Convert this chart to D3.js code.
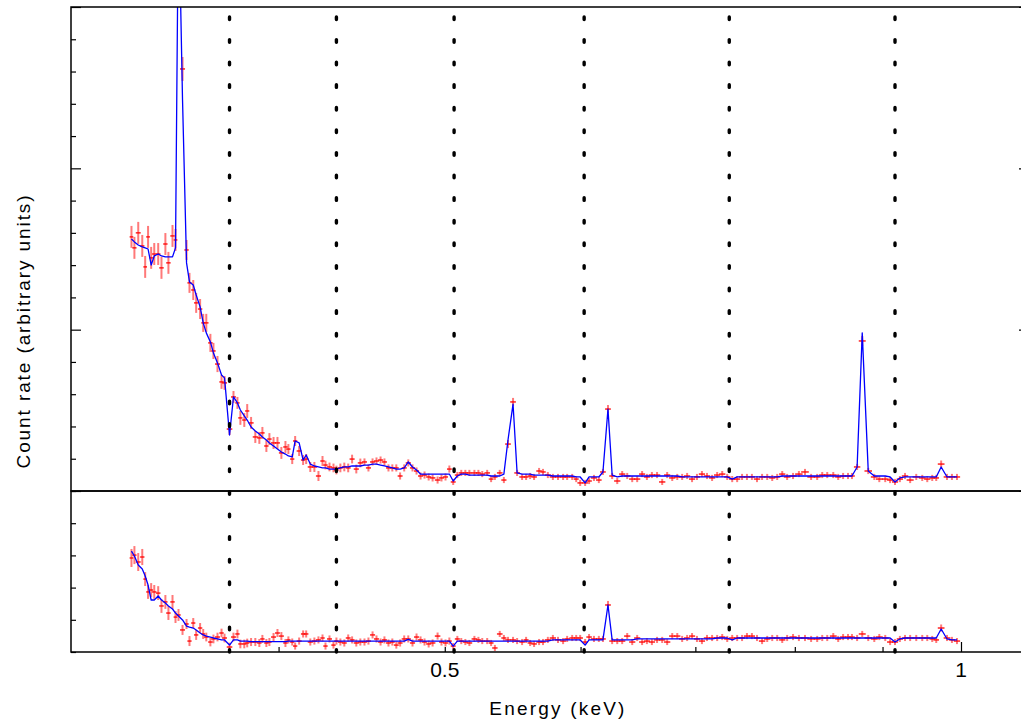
<!DOCTYPE html>
<html>
<head>
<meta charset="utf-8">
<script src="https://cdn.jsdelivr.net/npm/d3@7"></script>
<style>
  html, body { margin: 0; padding: 0; background: #fff; }
  svg { display: block; font-family: "Liberation Sans", Arial, sans-serif; }
</style>
</head>
<body>
<svg id="chart" width="1021" height="724"></svg>
<script>
// Channel energies (keV).
const energy = [
  0.3283, 0.3296, 0.3313, 0.3331, 0.3344, 0.3357, 0.3371, 0.3385, 0.3403, 0.3418,
  0.3436, 0.3450, 0.3469, 0.3483, 0.3497, 0.3516, 0.3535, 0.3549, 0.3567, 0.3581,
  0.3600, 0.3615, 0.3630, 0.3650, 0.3665, 0.3685, 0.3705, 0.3720, 0.3745, 0.3765,
  0.3785, 0.3800, 0.3820, 0.3835,
  0.3855, 0.3877, 0.3898, 0.3914, 0.3935, 0.3951, 0.3973, 0.3994, 0.4015, 0.4037,
  0.4053, 0.4074, 0.4090, 0.4112, 0.4134, 0.4151, 0.4174, 0.4197, 0.4220, 0.4243,
  0.4260, 0.4283, 0.4306, 0.4323, 0.4346, 0.4369, 0.4392, 0.4415, 0.4440, 0.4464,
  0.4489, 0.4513, 0.4538, 0.4562, 0.4587, 0.4611, 0.4636, 0.4660, 0.4685, 0.4709,
  0.4735, 0.4761, 0.4788, 0.4814, 0.4840, 0.4866, 0.4893, 0.4919, 0.4952, 0.4978,
  0.5005, 0.5031, 0.5057, 0.5085, 0.5112, 0.5140, 0.5168, 0.5203, 0.5231, 0.5258,
  0.5293, 0.5321, 0.5348, 0.5383, 0.5413, 0.5443, 0.5480,
  0.5510, 0.5547, 0.5577, 0.5607, 0.5637, 0.5675, 0.5705, 0.5742, 0.5781, 0.5821,
  0.5861, 0.5893, 0.5933, 0.5965, 0.5997, 0.6037, 0.6069, 0.6109, 0.6149, 0.6183,
  0.6225, 0.6260, 0.6303, 0.6345, 0.6388, 0.6431, 0.6474, 0.6517, 0.6559, 0.6603,
  0.6649, 0.6695, 0.6740, 0.6786, 0.6832, 0.6877, 0.6923, 0.6969, 0.7015, 0.7062,
  0.7110, 0.7159, 0.7208, 0.7257, 0.7306, 0.7355, 0.7404, 0.7453, 0.7502, 0.7552,
  0.7604, 0.7656, 0.7709, 0.7761, 0.7813, 0.7866, 0.7918, 0.7981, 0.8044, 0.8110,
  0.8177, 0.8244, 0.8300, 0.8356, 0.8424, 0.8480, 0.8536, 0.8592, 0.8638, 0.8698,
  0.8758, 0.8829, 0.8901, 0.8961, 0.9033, 0.9092, 0.9152, 0.9212, 0.9276, 0.9340,
  0.9417, 0.9493, 0.9557, 0.9621, 0.9673, 0.9737, 0.9814, 0.9879, 0.9946
];

// Upper panel: measured count rate, 1-sigma error and model.
const topData = [
  1.575, 1.507, 1.600, 1.519, 1.389, 1.575, 1.445, 1.469, 1.469, 1.383,
  1.531, 1.414, 1.581, 1.556, 3.800, 2.616, 1.494, 1.290, 1.246, 1.166,
  1.128, 1.042, 1.042, 0.918, 0.868, 0.787, 0.676, 0.670, 0.384, 0.583,
  0.546, 0.453, 0.440, 0.496,
  0.422, 0.335, 0.329, 0.360, 0.279, 0.322, 0.298, 0.298, 0.236, 0.273,
  0.260, 0.198, 0.310, 0.248, 0.192, 0.198, 0.149, 0.149, 0.093, 0.186,
  0.161, 0.149, 0.143, 0.130, 0.143, 0.149, 0.143, 0.198, 0.136, 0.174,
  0.180, 0.143, 0.180, 0.186, 0.192, 0.180, 0.143, 0.143, 0.143, 0.093,
  0.143, 0.174, 0.143, 0.124, 0.093, 0.099, 0.087, 0.081, 0.068, 0.081,
  0.087, 0.136, 0.056, 0.099, 0.112, 0.112, 0.112, 0.112, 0.112, 0.105,
  0.112, 0.074, 0.087, 0.112, 0.068, 0.291, 0.552,
  0.112, 0.087, 0.087, 0.093, 0.087, 0.124, 0.118, 0.099, 0.087, 0.087,
  0.087, 0.087, 0.087, 0.074, 0.050, 0.050, 0.062, 0.081, 0.068, 0.118,
  0.508, 0.093, 0.062, 0.105, 0.093, 0.074, 0.074, 0.105, 0.087, 0.099,
  0.099, 0.056, 0.099, 0.081, 0.087, 0.087, 0.093, 0.074, 0.087, 0.105,
  0.093, 0.081, 0.099, 0.105, 0.087, 0.074, 0.074, 0.087, 0.087, 0.087,
  0.074, 0.087, 0.087, 0.081, 0.087, 0.105, 0.087, 0.093, 0.105, 0.118,
  0.087, 0.087, 0.099, 0.099, 0.099, 0.087, 0.093, 0.093, 0.093, 0.149,
  0.930, 0.124, 0.087, 0.074, 0.074, 0.068, 0.056, 0.074, 0.093, 0.068,
  0.087, 0.081, 0.074, 0.081, 0.081, 0.167, 0.087, 0.087, 0.087
];
const topErr = [
  0.068, 0.068, 0.068, 0.068, 0.068, 0.068, 0.068, 0.068, 0.068, 0.068,
  0.068, 0.068, 0.068, 0.068, 0.074, 0.074, 0.062, 0.062, 0.062, 0.062,
  0.062, 0.056, 0.056, 0.056, 0.050, 0.050, 0.043, 0.043, 0.037, 0.037,
  0.037, 0.043, 0.043, 0.043,
  0.037, 0.037, 0.037, 0.037, 0.037, 0.037, 0.037, 0.037, 0.037, 0.037,
  0.031, 0.031, 0.031, 0.031, 0.031, 0.031, 0.031, 0.031, 0.031, 0.031,
  0.027, 0.027, 0.027, 0.027, 0.027, 0.027, 0.027, 0.027, 0.027, 0.027,
  0.022, 0.022, 0.022, 0.022, 0.022, 0.022, 0.022, 0.022, 0.022, 0.022,
  0.022, 0.022, 0.022, 0.022, 0.022, 0.022, 0.022, 0.022, 0.022, 0.022,
  0.022, 0.022, 0.019, 0.019, 0.019, 0.019, 0.019, 0.019, 0.019, 0.019,
  0.019, 0.019, 0.019, 0.019, 0.019, 0.025, 0.025,
  0.019, 0.019, 0.019, 0.019, 0.019, 0.019, 0.019, 0.019, 0.019, 0.019,
  0.019, 0.019, 0.019, 0.019, 0.019, 0.019, 0.019, 0.019, 0.019, 0.019,
  0.025, 0.019, 0.019, 0.019, 0.019, 0.019, 0.019, 0.019, 0.019, 0.019,
  0.019, 0.019, 0.019, 0.019, 0.019, 0.019, 0.019, 0.019, 0.019, 0.019,
  0.019, 0.019, 0.019, 0.019, 0.019, 0.019, 0.019, 0.019, 0.019, 0.019,
  0.019, 0.019, 0.019, 0.019, 0.019, 0.019, 0.019, 0.019, 0.019, 0.019,
  0.019, 0.019, 0.019, 0.019, 0.019, 0.019, 0.019, 0.019, 0.019, 0.019,
  0.031, 0.019, 0.019, 0.019, 0.019, 0.019, 0.019, 0.019, 0.019, 0.019,
  0.019, 0.019, 0.019, 0.019, 0.019, 0.022, 0.019, 0.019, 0.019
];
const topModel = [
  1.562, 1.544, 1.525, 1.513, 1.507, 1.500, 1.401, 1.457, 1.469, 1.457,
  1.451, 1.451, 1.451, 1.507, 3.700, 2.424, 1.414, 1.296, 1.277, 1.215,
  1.141, 1.042, 0.980, 0.924, 0.856, 0.794, 0.719, 0.701, 0.347, 0.583,
  0.546, 0.502, 0.465, 0.440,
  0.397, 0.372, 0.353, 0.335, 0.316, 0.298, 0.279, 0.260, 0.242, 0.229,
  0.217, 0.211, 0.310, 0.298, 0.192, 0.223, 0.167, 0.155, 0.149, 0.143,
  0.143, 0.136, 0.136, 0.136, 0.143, 0.149, 0.149, 0.155, 0.155, 0.155,
  0.161, 0.161, 0.167, 0.167, 0.161, 0.155, 0.149, 0.143, 0.136, 0.136,
  0.143, 0.180, 0.149, 0.130, 0.105, 0.105, 0.105, 0.105, 0.105, 0.105,
  0.105, 0.105, 0.062, 0.093, 0.105, 0.105, 0.099, 0.099, 0.099, 0.099,
  0.099, 0.093, 0.093, 0.093, 0.105, 0.316, 0.539,
  0.112, 0.105, 0.105, 0.105, 0.099, 0.099, 0.099, 0.099, 0.093, 0.093,
  0.093, 0.093, 0.093, 0.087, 0.087, 0.050, 0.087, 0.087, 0.087, 0.118,
  0.508, 0.099, 0.087, 0.093, 0.093, 0.093, 0.093, 0.093, 0.093, 0.093,
  0.093, 0.093, 0.093, 0.093, 0.093, 0.087, 0.087, 0.087, 0.087, 0.087,
  0.087, 0.087, 0.087, 0.087, 0.087, 0.074, 0.087, 0.087, 0.087, 0.087,
  0.087, 0.087, 0.087, 0.087, 0.087, 0.093, 0.093, 0.093, 0.093, 0.093,
  0.093, 0.093, 0.093, 0.093, 0.093, 0.093, 0.093, 0.093, 0.093, 0.149,
  0.980, 0.124, 0.093, 0.093, 0.093, 0.087, 0.056, 0.081, 0.087, 0.087,
  0.087, 0.087, 0.087, 0.087, 0.087, 0.149, 0.087, 0.087, 0.087
];

// Lower panel: second data set, error and model.
const lowData = [
  0.584, 0.602, 0.559, 0.590, 0.453, 0.373, 0.385, 0.373, 0.366, 0.286,
  0.311, 0.242, 0.311, 0.217, 0.230, 0.137, 0.174, 0.068, 0.180, 0.106,
  0.149, 0.112, 0.093, 0.062, 0.081, 0.093, 0.118, 0.087, 0.031, 0.093,
  0.112, 0.050, 0.050, 0.056,
  0.062, 0.062, 0.056, 0.081, 0.056, 0.062, 0.093, 0.118, 0.099, 0.056,
  0.075, 0.062, 0.037, 0.068, 0.112, 0.112, 0.062, 0.068, 0.075, 0.087,
  0.037, 0.081, 0.043, 0.068, 0.062, 0.056, 0.087, 0.075, 0.056, 0.062,
  0.062, 0.068, 0.106, 0.081, 0.062, 0.075, 0.056, 0.062, 0.043, 0.056,
  0.081, 0.081, 0.056, 0.093, 0.075, 0.062, 0.050, 0.056, 0.099, 0.062,
  0.056, 0.068, 0.037, 0.081, 0.068, 0.062, 0.056, 0.081, 0.075, 0.068,
  0.068, 0.056, 0.025, 0.112, 0.087, 0.075, 0.075,
  0.068, 0.062, 0.075, 0.056, 0.050, 0.062, 0.062, 0.075, 0.087, 0.075,
  0.068, 0.081, 0.087, 0.087, 0.087, 0.062, 0.093, 0.081, 0.081, 0.081,
  0.292, 0.068, 0.068, 0.068, 0.099, 0.062, 0.087, 0.062, 0.068, 0.062,
  0.075, 0.075, 0.062, 0.099, 0.099, 0.081, 0.087, 0.099, 0.081, 0.068,
  0.087, 0.087, 0.087, 0.093, 0.081, 0.087, 0.087, 0.087, 0.099, 0.099,
  0.087, 0.068, 0.081, 0.087, 0.087, 0.075, 0.087, 0.093, 0.087, 0.087,
  0.081, 0.081, 0.087, 0.087, 0.099, 0.081, 0.093, 0.093, 0.093, 0.087,
  0.112, 0.087, 0.081, 0.093, 0.087, 0.062, 0.062, 0.081, 0.087, 0.087,
  0.087, 0.087, 0.087, 0.081, 0.075, 0.149, 0.087, 0.075, 0.068
];
const lowErr = [
  0.056, 0.056, 0.056, 0.050, 0.043, 0.043, 0.043, 0.043, 0.043, 0.043,
  0.043, 0.043, 0.043, 0.037, 0.037, 0.031, 0.031, 0.031, 0.031, 0.031,
  0.031, 0.031, 0.027, 0.027, 0.027, 0.027, 0.027, 0.027, 0.027, 0.027,
  0.027, 0.027, 0.027, 0.027,
  0.025, 0.025, 0.025, 0.025, 0.025, 0.025, 0.025, 0.025, 0.025, 0.025,
  0.022, 0.022, 0.022, 0.022, 0.022, 0.022, 0.022, 0.022, 0.022, 0.022,
  0.022, 0.022, 0.022, 0.022, 0.022, 0.022, 0.022, 0.022, 0.022, 0.022,
  0.022, 0.022, 0.022, 0.022, 0.022, 0.022, 0.022, 0.022, 0.022, 0.022,
  0.022, 0.022, 0.022, 0.022, 0.022, 0.022, 0.022, 0.022, 0.022, 0.022,
  0.022, 0.022, 0.019, 0.019, 0.019, 0.019, 0.019, 0.019, 0.019, 0.019,
  0.019, 0.019, 0.019, 0.019, 0.019, 0.019, 0.019,
  0.019, 0.019, 0.019, 0.019, 0.019, 0.019, 0.019, 0.019, 0.019, 0.019,
  0.019, 0.019, 0.019, 0.019, 0.019, 0.019, 0.019, 0.019, 0.019, 0.019,
  0.025, 0.019, 0.019, 0.019, 0.019, 0.019, 0.019, 0.019, 0.019, 0.019,
  0.019, 0.019, 0.019, 0.019, 0.019, 0.019, 0.019, 0.019, 0.019, 0.019,
  0.019, 0.019, 0.019, 0.019, 0.019, 0.019, 0.019, 0.019, 0.019, 0.019,
  0.019, 0.019, 0.019, 0.019, 0.019, 0.019, 0.019, 0.019, 0.019, 0.019,
  0.019, 0.019, 0.019, 0.019, 0.019, 0.019, 0.019, 0.019, 0.019, 0.019,
  0.019, 0.019, 0.019, 0.019, 0.019, 0.019, 0.019, 0.019, 0.019, 0.019,
  0.019, 0.019, 0.019, 0.019, 0.019, 0.022, 0.019, 0.019, 0.019
];
const lowModel = [
  0.627, 0.596, 0.540, 0.516, 0.472, 0.416, 0.323, 0.323, 0.348, 0.323,
  0.304, 0.286, 0.267, 0.242, 0.224, 0.199, 0.161, 0.155, 0.149, 0.137,
  0.118, 0.106, 0.099, 0.093, 0.087, 0.081, 0.075, 0.075, 0.043, 0.075,
  0.075, 0.068, 0.068, 0.068,
  0.065, 0.065, 0.065, 0.065, 0.065, 0.065, 0.065, 0.065, 0.065, 0.065,
  0.068, 0.068, 0.068, 0.068, 0.068, 0.068, 0.068, 0.068, 0.068, 0.068,
  0.068, 0.068, 0.068, 0.068, 0.068, 0.068, 0.068, 0.068, 0.068, 0.068,
  0.068, 0.068, 0.068, 0.068, 0.068, 0.068, 0.068, 0.068, 0.068, 0.068,
  0.068, 0.078, 0.068, 0.068, 0.068, 0.068, 0.068, 0.068, 0.068, 0.068,
  0.068, 0.068, 0.037, 0.068, 0.068, 0.068, 0.068, 0.068, 0.068, 0.068,
  0.068, 0.068, 0.068, 0.068, 0.068, 0.068, 0.068,
  0.068, 0.068, 0.068, 0.068, 0.068, 0.068, 0.068, 0.068, 0.075, 0.075,
  0.075, 0.075, 0.075, 0.075, 0.075, 0.043, 0.075, 0.075, 0.075, 0.075,
  0.292, 0.075, 0.075, 0.075, 0.075, 0.075, 0.081, 0.081, 0.081, 0.081,
  0.081, 0.081, 0.081, 0.081, 0.081, 0.081, 0.081, 0.081, 0.081, 0.081,
  0.081, 0.081, 0.087, 0.087, 0.087, 0.075, 0.087, 0.087, 0.087, 0.087,
  0.087, 0.087, 0.087, 0.087, 0.087, 0.087, 0.087, 0.087, 0.087, 0.087,
  0.087, 0.087, 0.087, 0.087, 0.087, 0.087, 0.087, 0.087, 0.087, 0.087,
  0.087, 0.087, 0.087, 0.087, 0.087, 0.087, 0.062, 0.081, 0.087, 0.087,
  0.087, 0.087, 0.087, 0.087, 0.087, 0.143, 0.081, 0.075, 0.075
];

// Edge energies marked by the dotted lines (keV).
const edges = [0.3745, 0.4323, 0.5063, 0.6029, 0.7326, 0.9152];

// Energy axis ticks and labels.
const xMajorTicks = [1];
const xMinorTicks = [0.4, 0.5, 0.6, 0.7, 0.8, 0.9];
const xLabels = [0.5, 1];

const plotL = 71, plotR = 1029, plotT = 7, plotM = 491, plotB = 652;

const svg = d3.select('#chart');

const x = d3.scaleLog().domain([0.3027, 1.0956]).range([plotL, plotR]);
const yTop = d3.scaleLinear().domain([0, 3]).range([plotM, plotT]);
const yLow = d3.scaleLinear().domain([0, 1]).range([plotB, plotM]);

const defs = svg.append('defs');
defs.append('clipPath').attr('id', 'clip-top')
  .append('rect').attr('x', plotL).attr('y', plotT).attr('width', plotR - plotL).attr('height', plotM - plotT);
defs.append('clipPath').attr('id', 'clip-low')
  .append('rect').attr('x', plotL).attr('y', plotM).attr('width', plotR - plotL).attr('height', plotB - plotM);

// Half the channel width in pixels, from the neighbouring channels.
const halfBin = i => {
  const a = x(energy[Math.max(0, i - 1)]);
  const b = x(energy[Math.min(energy.length - 1, i + 1)]);
  const n = (i === 0 || i === energy.length - 1) ? 2 : 4;
  return (b - a) / n * 1.25;
};

function drawPanel(y, data, err, model, clipId) {
  const g = svg.append('g').attr('clip-path', `url(#${clipId})`);

  const pts = data.map((v, i) => ({ e: energy[i], v, s: err[i], i }));

  // error bars (soft red) and channel widths
  g.append('g')
      .attr('stroke', '#ff2020')
      .attr('stroke-opacity', 0.6)
      .attr('stroke-width', 2)
    .selectAll('line')
    .data(pts)
    .join('line')
      .attr('x1', d => x(d.e)).attr('x2', d => x(d.e))
      .attr('y1', d => y(d.v - d.s)).attr('y2', d => y(d.v + d.s));

  g.append('g')
      .attr('stroke', '#ff0000')
      .attr('stroke-width', 1.3)
    .selectAll('line')
    .data(pts)
    .join('line')
      .attr('x1', d => x(d.e) - halfBin(d.i)).attr('x2', d => x(d.e) + halfBin(d.i))
      .attr('y1', d => y(d.v)).attr('y2', d => y(d.v));

  g.append('path')
      .datum(model.map((v, i) => [energy[i], v]))
      .attr('fill', 'none')
      .attr('stroke', '#0000ff')
      .attr('stroke-width', 1.3)
      .attr('stroke-linejoin', 'round')
      .attr('d', d3.line().x(d => x(d[0])).y(d => y(d[1])));
}

drawPanel(yTop, topData, topErr, topModel, 'clip-top');
drawPanel(yLow, lowData, lowErr, lowModel, 'clip-low');

// Dotted edge markers through both panels.
svg.append('g')
    .attr('stroke', '#000')
    .attr('stroke-width', 3.4)
    .attr('stroke-linecap', 'round')
    .attr('stroke-dasharray', '2.6,20')
  .selectAll('line')
  .data(edges)
  .join('line')
    .attr('x1', d => x(d)).attr('x2', d => x(d))
    .attr('y1', 17).attr('y2', plotB);

// Ticks (inward, no numbers on the count-rate axes).
const tickStyle = sel => {
  sel.select('.domain').remove();
  sel.selectAll('.tick line').attr('stroke', '#000').attr('stroke-width', 1.2);
  sel.selectAll('.tick text').remove();
};

const topMinor = yTop.ticks(15).filter(v => Math.abs(v - Math.round(v)) > 1e-6);
const topMajor = yTop.ticks(3);
const lowMinor = yLow.ticks(5);

svg.append('g').attr('transform', `translate(${plotL},0)`)
  .call(d3.axisRight(yTop).tickValues(topMinor).tickSize(5)).call(tickStyle);
svg.append('g').attr('transform', `translate(${plotL},0)`)
  .call(d3.axisRight(yTop).tickValues(topMajor).tickSize(10)).call(tickStyle);
svg.append('g').attr('transform', `translate(${plotL},0)`)
  .call(d3.axisRight(yLow).tickValues(lowMinor).tickSize(5)).call(tickStyle);

svg.append('g').attr('transform', `translate(${plotR},0)`)
  .call(d3.axisLeft(yTop).tickValues(topMajor).tickSize(10)).call(tickStyle);
svg.append('g').attr('transform', `translate(${plotR},0)`)
  .call(d3.axisLeft(yTop).tickValues(topMinor).tickSize(5)).call(tickStyle);

svg.append('g').attr('transform', `translate(0,${plotB})`)
  .call(d3.axisTop(x).tickValues(xMinorTicks).tickSize(5)).call(tickStyle);
svg.append('g').attr('transform', `translate(0,${plotB})`)
  .call(d3.axisTop(x).tickValues(xMajorTicks).tickSize(10)).call(tickStyle);

// Frame of the two panels.
const frame = svg.append('g').attr('fill', 'none').attr('stroke', '#000').attr('stroke-width', 1.5);
frame.append('rect').attr('x', plotL).attr('y', plotT).attr('width', plotR - plotL).attr('height', plotM - plotT);
frame.append('rect').attr('x', plotL).attr('y', plotM).attr('width', plotR - plotL).attr('height', plotB - plotM);

// Labels.
svg.append('g')
    .attr('font-size', 21)
    .attr('fill', '#000')
    .attr('text-anchor', 'middle')
  .selectAll('text')
  .data(xLabels)
  .join('text')
    .attr('x', d => x(d))
    .attr('y', 677)
    .text(d3.format('~g'));

svg.append('text')
    .attr('x', 558)
    .attr('y', 715)
    .attr('text-anchor', 'middle')
    .attr('font-size', 19)
    .attr('letter-spacing', 2.2)
    .text('Energy (keV)');

svg.append('text')
    .attr('transform', 'translate(30,331) rotate(-90)')
    .attr('text-anchor', 'middle')
    .attr('font-size', 19)
    .attr('letter-spacing', 1.9)
    .text('Count rate (arbitrary units)');
</script>
</body>
</html>
